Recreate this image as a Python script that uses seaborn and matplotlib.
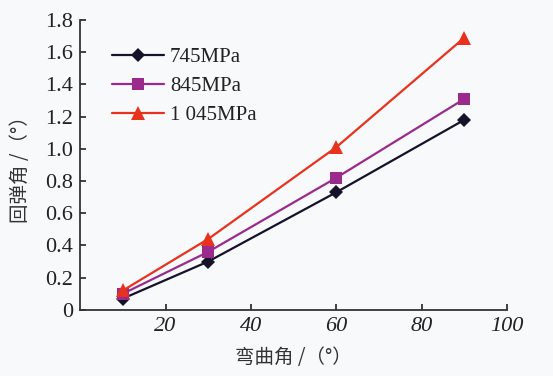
import numpy as np
import pandas as pd
import matplotlib
matplotlib.use('Agg')
import matplotlib.pyplot as plt
import seaborn as sns

# bending angle (deg) and springback angle (deg) for three strengths
bend_angle = [10, 30, 60, 90]
spring_745 = [0.07, 0.30, 0.73, 1.18]
spring_845 = [0.10, 0.36, 0.82, 1.31]
spring_1045 = [0.12, 0.44, 1.01, 1.69]
labels = ['745MPa', '845MPa', '1 045MPa']

df = pd.DataFrame({
    'bend': bend_angle * 3,
    'spring': spring_745 + spring_845 + spring_1045,
    'grade': [labels[0]] * 4 + [labels[1]] * 4 + [labels[2]] * 4,
})

sns.set_style('ticks')
plt.rcParams['font.family'] = ['Liberation Serif', 'Noto Sans CJK SC']
plt.rcParams['xtick.direction'] = 'in'
plt.rcParams['ytick.direction'] = 'in'

fig = plt.figure(figsize=(5.53, 3.76), dpi=100, facecolor='#f8f9fb')
ax = fig.add_axes([0.145, 0.176, 0.772, 0.771])
ax.set_facecolor('#f8f9fb')

palette = {'745MPa': '#15122a', '845MPa': '#9a2a8c', '1 045MPa': '#e8321e'}
markers = {'745MPa': 'D', '845MPa': 's', '1 045MPa': '^'}
sizes = {'745MPa': 7, '845MPa': 9, '1 045MPa': 10}

for g in labels:
    sub = df[df['grade'] == g]
    sns.lineplot(data=sub, x='bend', y='spring', ax=ax, color=palette[g],
                 marker=markers[g], markersize=sizes[g], markeredgewidth=0,
                 linewidth=1.6, label=g)

ax.set_xlim(0, 100)
ax.set_ylim(0, 1.8)
ax.set_xticks([20, 40, 60, 80, 100])
ax.set_yticks(np.arange(0, 1.81, 0.2))
ax.set_yticklabels(['0'] + ['%.1f' % v for v in np.arange(0.2, 1.81, 0.2)])
for t in ax.get_xticklabels():
    t.set_fontstyle('italic')
ax.tick_params(labelsize=16, length=4, width=1.2, colors='#222222', pad=5)
sns.despine(ax=ax)
for s in ['left', 'bottom']:
    ax.spines[s].set_linewidth(1.3)
    ax.spines[s].set_color('#333333')

ax.set_xlabel('弯曲角 /（°）', fontsize=14, family=['Noto Sans CJK SC'],
              color='#333333', labelpad=8)
ax.set_ylabel('回弹角 /（°）', fontsize=14, family=['Noto Sans CJK SC'],
              color='#333333', labelpad=10)

leg = ax.legend(loc='upper left', bbox_to_anchor=(0.03, 0.97), frameon=False,
                fontsize=15, handlelength=2.5, labelspacing=0.45, handletextpad=0.3)
for t in leg.get_texts():
    t.set_color('#222222')

fig.savefig('out.png', dpi=100, facecolor=fig.get_facecolor())
